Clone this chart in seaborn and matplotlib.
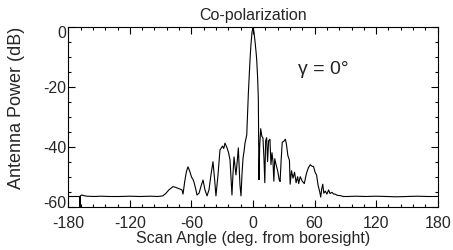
import matplotlib
matplotlib.use("Agg")
import matplotlib.pyplot as plt
from matplotlib.ticker import MultipleLocator
from matplotlib.transforms import ScaledTranslation
import seaborn as sns
import pandas as pd

# Scan angle (deg) and antenna power (dB)
angle = [-180, -175, -170, -168.8, -168.6, -168.3, -167, -165, -162, -155, -148, -140,
         -130, -120, -110, -100, -93, -88, -85, -82, -78, -75, -72, -69.2, -68.2,
         -66.5, -65, -63.4, -62.4, -61.4, -60.4, -59.5, -58.5, -57.5, -55.6, -54.6,
         -52.6, -50.5, -48.7, -46.8, -44.8, -42.9, -41, -39, -37.5, -36.1, -34.1,
         -32.2, -31, -29.7, -28.5, -27.3, -25.3, -23.8, -22.4, -20.5, -19.5, -18.5,
         -16.6, -15.4, -14.3, -12.7, -11.7, -10.7, -9.7, -8.7, -7.8, -6.1, -5.5,
         -4.5, -3.5, -2.9, -2, -1, 0, 1, 2, 3, 3.6, 4.5, 5.2, 5.8, 6.5, 7.5, 8.6,
         9.7, 10.7, 11.5, 12.3, 13.3, 14.2, 15.2, 16.5, 17.5, 18.5, 19.5, 20.3,
         21.2, 22.5, 24, 25.5, 26.4, 27.5, 28.5, 30, 31.5, 32.5, 34, 35.5, 36.2,
         37.5, 39, 40.5, 42, 43.5, 44.5, 46, 48, 50, 52, 54, 55.8, 57.5, 59, 60.5,
         62, 63.5, 65, 66, 67, 68, 69, 70.5, 72, 73.7, 75, 77, 78.6, 80, 82, 85,
         88, 92, 100, 110, 120, 130, 140, 150, 160, 170, 180]
power_db = [-56.6, -56.6, -56.6, -56.6, -60.0, -56.4, -56.1, -56.3, -56.5, -56.6, -56.5, -56.6,
            -56.6, -56.5, -56.6, -56.5, -56.6, -56.4, -55.6, -54.4, -53.3, -53.6, -54.0, -54.4, -55.8,
            -51.5, -48.5, -46.7, -47.5, -48.4, -49.6, -50.4, -50.9, -51.8, -54.4, -56.1,
            -55.5, -53.0, -51.1, -54.4, -56.4, -54.4, -49.5, -45.0, -50.5, -56.4, -49.4,
            -41.1, -40.5, -39.8, -40.6, -38.8, -40.4, -42.0, -44.4, -56.1, -49.0, -43.4,
            -49.4, -45.0, -40.4, -52.8, -56.4, -49.0, -43.8, -41.5, -38.8, -36.1, -31.0,
            -22.0, -15.0, -11.0, -6.0, -2.0, 0.0, -2.0, -5.0, -8.5, -11.0, -17.0, -24.0, -51.0, -40.0, -34.0, -36.5,
            -37.1, -44.0, -52.0, -38.0, -37.0, -45.0, -38.0, -37.5, -46.0, -42.0, -45.0, -51.5,
            -44.0, -46.0, -48.0, -51.0, -51.6, -44.0, -38.5, -38.2, -37.5, -39.0, -43.0, -44.5, -52.5,
            -48.0, -50.5, -48.5, -52.0, -50.0, -52.3, -50.0, -51.5, -52.3, -49.0, -47.0, -46.0, -46.5, -46.6, -48.5,
            -49.5, -53.0, -55.0, -56.8, -54.0, -52.5, -55.5, -54.8, -55.8, -54.4, -55.6, -55.2, -55.8, -55.8, -56.2, -56.3,
            -56.6, -56.6, -56.5, -56.6, -56.5, -56.6, -56.7, -56.6, -56.5, -56.6, -56.6]

xticks = [-180, -120, -60, 0, 60, 120, 180]
yticks = [0, -20, -40, -60]

df = pd.DataFrame({"angle": angle, "power": power_db})

sns.set_theme(style="ticks")
plt.rcParams["font.family"] = ["Liberation Sans", "DejaVu Sans"]

fig = plt.figure(figsize=(4.53, 2.5), dpi=100)
ax = fig.add_axes([68.3 / 453, 1 - 206.7 / 250, 369.4 / 453, 180 / 250])

sns.lineplot(data=df, x="angle", y="power", ax=ax, color="black", linewidth=0.8,
             estimator=None, sort=False)

ax.set_xlim(-180, 180)
ax.set_ylim(-60, 0)
ax.set_xticks(xticks)
ax.set_xticklabels([str(t) for t in xticks])
ax.set_yticks(yticks)
ax.set_yticklabels([str(t) for t in yticks])
ax.xaxis.set_minor_locator(MultipleLocator(12))
ax.yaxis.set_minor_locator(MultipleLocator(5))
ax.tick_params(which="both", direction="in", top=True, right=True, color="black", width=0.8)
ax.tick_params(which="major", length=5)
ax.tick_params(which="minor", length=2.5)
ax.tick_params(axis="x", which="major", labelsize=11.5, pad=7)
ax.tick_params(axis="y", which="major", labelsize=11.5, pad=1.5)
for s in ax.spines.values():
    s.set_color("black")
    s.set_linewidth(0.8)

# nudge the end y labels inward as in the reference
yt = ax.yaxis.get_major_ticks()
shift = {0: -5, 3: 5}
for i, dy in shift.items():
    lab = yt[i].label1
    lab.set_transform(lab.get_transform() + ScaledTranslation(0, dy / 100, fig.dpi_scale_trans))

ax.set_xlabel("Scan Angle (deg. from boresight)", fontsize=11.5)
ax.xaxis.set_label_coords(0.5, -0.135)
ax.set_ylabel("Antenna Power (dB)", fontsize=13)
ax.yaxis.set_label_coords(-0.118, 0.55)
ax.set_title("Co-polarization", fontsize=11.5, pad=4.5)
ax.text(44, -14.4, "γ = 0°", fontsize=14, ha="left", va="center")

fig.savefig("out.png", dpi=100)
